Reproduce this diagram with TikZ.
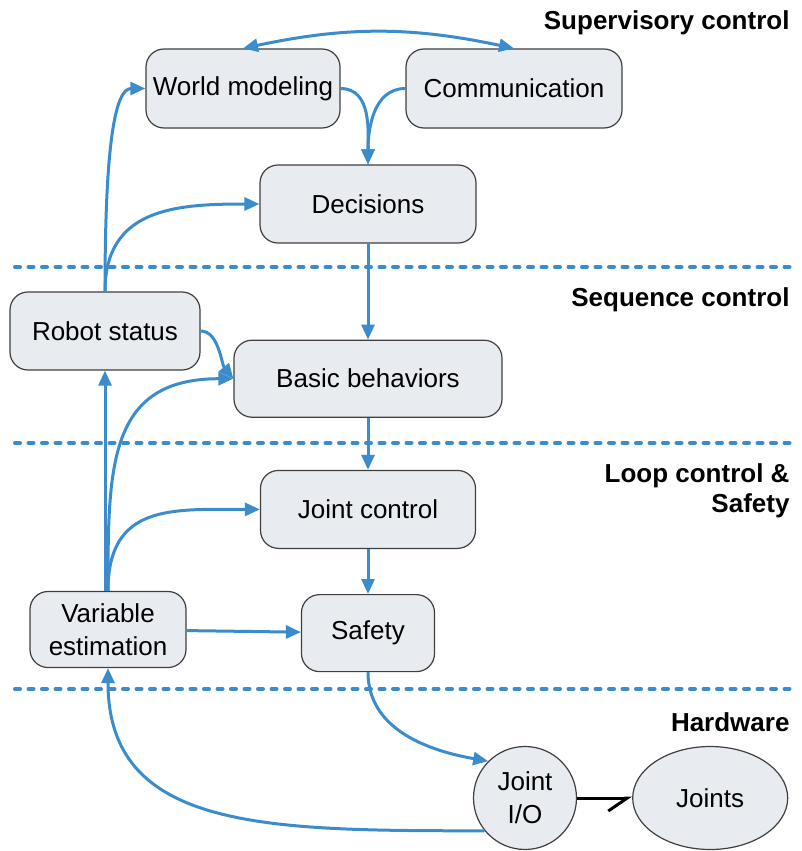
\documentclass[tikz,border=0pt]{standalone}
\usepackage{fontspec}
\setmainfont{Liberation Sans}
\usetikzlibrary{arrows.meta,positioning,shapes.geometric}
\definecolor{flowblue}{HTML}{3A8CCC}
\definecolor{boxfill}{HTML}{E8ECF0}
\definecolor{boxline}{HTML}{3F3F3F}

\begin{document}
\begin{tikzpicture}[x=0.5pt, y=0.5pt, ->, >={Triangle[length=7.5pt,width=6.5pt]}, line width=1.5pt, flowblue,
    every node/.style={font=\fontsize{13}{16.5}\selectfont},
    block/.style={draw=boxline, line width=0.6pt, fill=boxfill, rounded corners=9pt, inner sep=0pt, text=black, align=center},
    joint/.style={draw=boxline, line width=0.6pt, fill=boxfill, inner sep=0pt, text=black, align=center},
    level/.style={-, line width=2pt, dash pattern=on 2.5pt off 4.25pt, line cap=round},
    layer/.style={text=black, inner sep=0pt, font=\fontsize{13}{15}\selectfont\bfseries, align=right}]
    \useasboundingbox (0,0) rectangle (802,-851);

    % layers
    \foreach \y in {267,443,689}
        \draw[level] (15,-\y) -- (795,-\y);
    \node[layer, anchor=base east] (sup)  at (791,-29)  {Supervisory control};
    \node[layer, anchor=base east] (seq)  at (791,-306) {Sequence control};
    \node[layer, anchor=east]      (loop) at (791,-491) {Loop control \&\\Safety};
    \node[layer, anchor=base east] (hw)   at (791,-731) {Hardware};

    % blocks
    \node[block, minimum width=97pt,  minimum height=39.5pt] (wm)  at (243,-88.5) {World modeling};
    \node[block, minimum width=108pt, minimum height=39.5pt] (com) at (514,-88.5) {Communication};
    \node[block, minimum width=108pt, minimum height=39pt]   (dec) at (368,-204)  {Decisions};
    \node[block, minimum width=134pt, minimum height=38.5pt] (bb)  [below=48pt of dec]   {Basic behaviors};
    \node[block, minimum width=107.5pt, minimum height=39pt] (jc)  [below=26pt of bb]    {Joint control};
    \node[block, minimum width=66.5pt, minimum height=38.5pt] (saf) [below=22.5pt of jc] {Safety};
    \node[block, minimum width=95pt,  minimum height=39pt]   (rs)  at (105,-331)  {Robot status};
    \node[block, minimum width=78pt,  minimum height=38pt]   (var) at (108,-629.5) {Variable\\estimation};
    \node[joint, circle, minimum size=51.5pt] (io) at (525,-798) {Joint\\I/O};
    \node[joint, ellipse, minimum width=77.5pt, minimum height=51.5pt] (jts) [right=27.5pt of io] {Joints};

    \path
    (wm.north) edge[<->, bend left=12] (com.north)
    (wm.east)  edge[out=0, in=90]   (dec.north)
    (com.west) edge[out=180, in=90] (dec.north)
    (dec) edge (bb)
    (bb)  edge (jc)
    (jc)  edge (saf)
    (saf.south) edge[out=-90, in=170] (io.135)
    (var) edge (saf)
    (rs.south |- var.north) edge (rs.south)
    (var.north) edge[out=90, in=180, looseness=1.3] (bb.west)
    (var.north) edge[out=90, in=180, looseness=1.3] (jc.west)
    (rs.north)  edge[out=90, in=180, looseness=1.2] (dec.west)
    (rs.east)   edge[out=0, in=130, looseness=0.8]  (bb.west);

    \draw (rs.north) .. controls +(0,150) and +(-30,0) .. (wm.west);
    \draw (io.219) .. controls +(-220,0) and +(0,-162) .. (var.south);
    \draw[black, -{Straight Barb[harpoon, swap, length=9.5pt, width=13pt]}] (io) -- (jts);
\end{tikzpicture}
\end{document}
